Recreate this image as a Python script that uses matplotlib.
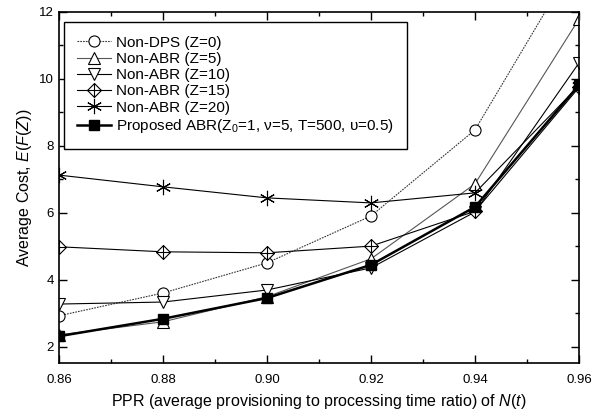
import matplotlib
matplotlib.use('Agg')
import matplotlib.pyplot as plt
from matplotlib.path import Path
from matplotlib.ticker import MultipleLocator

plt.rcParams['font.family'] = ['Liberation Sans', 'DejaVu Sans']
plt.rcParams['mathtext.fontset'] = 'custom'
plt.rcParams['mathtext.rm'] = 'Liberation Sans'
plt.rcParams['mathtext.it'] = 'Liberation Sans:italic'

ppr = [0.86, 0.88, 0.90, 0.92, 0.94, 0.96]
non_dps = [2.93, 3.61, 4.51, 5.91, 8.48, 13.7]
abr_z5 = [2.36, 2.75, 3.50, 4.63, 6.87, 11.79]
abr_z10 = [3.28, 3.34, 3.70, 4.36, 6.03, 10.48]
abr_z15 = [4.99, 4.84, 4.81, 5.01, 6.05, 9.75]
abr_z20 = [7.13, 6.78, 6.45, 6.30, 6.60, 9.80]
proposed = [2.32, 2.84, 3.46, 4.45, 6.18, 9.82]

labels = ['Non-DPS (Z=0)', 'Non-ABR (Z=5)', 'Non-ABR (Z=10)', 'Non-ABR (Z=15)',
          'Non-ABR (Z=20)',
          'Proposed ABR(Z$_0$=1, \u03bd=5, T=500, \u03c5=0.5)']

# diamond with a plus inside
diamond_plus = Path(
    [(0, 1), (1, 0), (0, -1), (-1, 0), (0, 1), (0, 1), (0, -1), (-1, 0), (1, 0)],
    [Path.MOVETO, Path.LINETO, Path.LINETO, Path.LINETO, Path.CLOSEPOLY,
     Path.MOVETO, Path.LINETO, Path.MOVETO, Path.LINETO])

fig = plt.figure(figsize=(6.02, 4.12), dpi=100)
ax = fig.add_axes([59/602, 49/412, 520/602, 351/412])

ax.plot(ppr, non_dps, 'o', ls=(0, (1.5, 1)), color='#333333', lw=0.8, ms=8,
        mfc='white', mec='black', mew=0.8, label=labels[0])
ax.plot(ppr, abr_z5, '^', ls='-', color='#555555', lw=0.8, ms=8,
        mfc='white', mec='black', mew=0.8, label=labels[1])
ax.plot(ppr, abr_z10, 'v', ls='-', color='black', lw=0.8, ms=8,
        mfc='white', mec='black', mew=0.8, label=labels[2])
ax.plot(ppr, abr_z15, marker=diamond_plus, ls='-', color='black', lw=0.8, ms=10,
        mfc='white', mec='black', mew=0.8, label=labels[3])
ax.plot(ppr, abr_z20, marker=(6, 2, 0), ls='-', color='black', lw=0.8, ms=11,
        mec='black', mew=0.8, label=labels[4])
ax.plot(ppr, proposed, 's', ls='-', color='black', lw=1.8, ms=7,
        mfc='black', mec='black', label=labels[5])

ax.set_xlim(0.86, 0.96)
ax.set_ylim(1.52, 12)
ax.set_xticks(ppr)
ax.set_xticklabels(['%.2f' % v for v in ppr])
ax.xaxis.set_minor_locator(MultipleLocator(0.01))
ax.set_yticks([2, 4, 6, 8, 10, 12])
ax.yaxis.set_minor_locator(MultipleLocator(1))
ax.tick_params(which='both', direction='in', top=True, right=True, labelsize=9.5)
ax.tick_params(which='major', length=6, width=1)
ax.tick_params(which='minor', length=3, width=1)
ax.tick_params(axis='x', pad=8)
for s in ax.spines.values():
    s.set_linewidth(1.2)

ax.set_xlabel('PPR (average provisioning to processing time ratio) of $N(t)$', fontsize=11.5)
ax.set_ylabel('Average Cost, $E(F(Z))$', fontsize=11.5)

leg = ax.legend(loc='upper left', bbox_to_anchor=(0.0, 0.985), fontsize=11,
                frameon=True, fancybox=False, edgecolor='black', framealpha=1,
                handlelength=2.2, handletextpad=0.3, labelspacing=0.15,
                borderpad=0.9, borderaxespad=0.3)
leg.get_frame().set_linewidth(1.0)

fig.savefig('out.png', dpi=100)
